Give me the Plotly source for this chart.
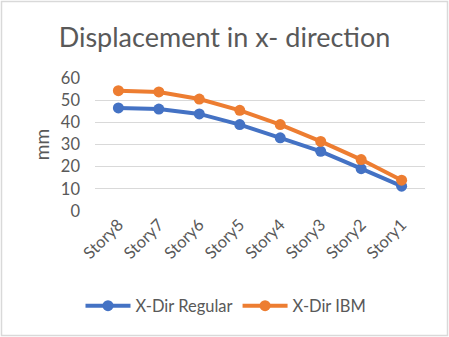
import plotly.graph_objects as go

# Storey labels and lateral displacement (mm) in the x direction
stories = ["Story8", "Story7", "Story6", "Story5", "Story4", "Story3", "Story2", "Story1"]
regular_mm = [46.5, 46.0, 43.8, 39.0, 33.0, 26.9, 19.1, 11.2]
ibm_mm = [54.3, 53.7, 50.5, 45.4, 39.0, 31.4, 23.2, 13.9]
y_ticks = [0, 10, 20, 30, 40, 50, 60]

W, H = 449, 337
ML, MR, MT, MB = 95, 24, 78, 126
FONT = "Lato"
GREY = "#595959"

fig = go.Figure()
fig.add_trace(go.Scatter(
    x=stories, y=regular_mm, name="X-Dir Regular", mode="lines+markers",
    line=dict(color="#4472C4", width=4), marker=dict(size=11, color="#4472C4"),
))
fig.add_trace(go.Scatter(
    x=stories, y=ibm_mm, name="X-Dir IBM", mode="lines+markers",
    line=dict(color="#ED7D31", width=4), marker=dict(size=11, color="#ED7D31"),
))

pw = W - ML - MR
ph = H - MT - MB
fig.update_layout(
    width=W, height=H,
    margin=dict(l=ML, r=MR, t=MT, b=MB),
    paper_bgcolor="white", plot_bgcolor="white",
    font=dict(family=FONT, color=GREY),
    title=dict(text="Displacement in x- direction", x=0.5, xanchor="center",
               y=1 - 38 / H, yanchor="middle",
               font=dict(family=FONT, size=27, color=GREY)),
    xaxis=dict(showgrid=False, zeroline=False, showline=False, ticks="",
               tickangle=-45, tickfont=dict(size=16.5, color=GREY)),
    yaxis=dict(range=[0, 60], tickvals=y_ticks, showgrid=True, gridcolor="#d9d9d9",
               gridwidth=1, zeroline=False, showline=False, ticks="",
               tickfont=dict(size=16.5, color=GREY), ticklabelstandoff=14,
               title=dict(text="mm", font=dict(size=19, color=GREY), standoff=6)),
    legend=dict(orientation="h", x=(226 - ML) / pw, xanchor="center",
                y=-(306 - (MT + ph)) / ph,
                yanchor="middle", font=dict(size=16.5, color=GREY), itemwidth=45),
    showlegend=True,
    shapes=[dict(type="rect", xref="paper", yref="paper",
                 x0=(1.5 - ML) / pw, x1=(W - 1.5 - ML) / pw,
                 y0=-(H - 1.5 - MT - ph) / ph, y1=1 + (MT - 1.5) / ph,
                 line=dict(color="#d9d9d9", width=1.5), layer="below")],
)

fig.write_html("out.html")
